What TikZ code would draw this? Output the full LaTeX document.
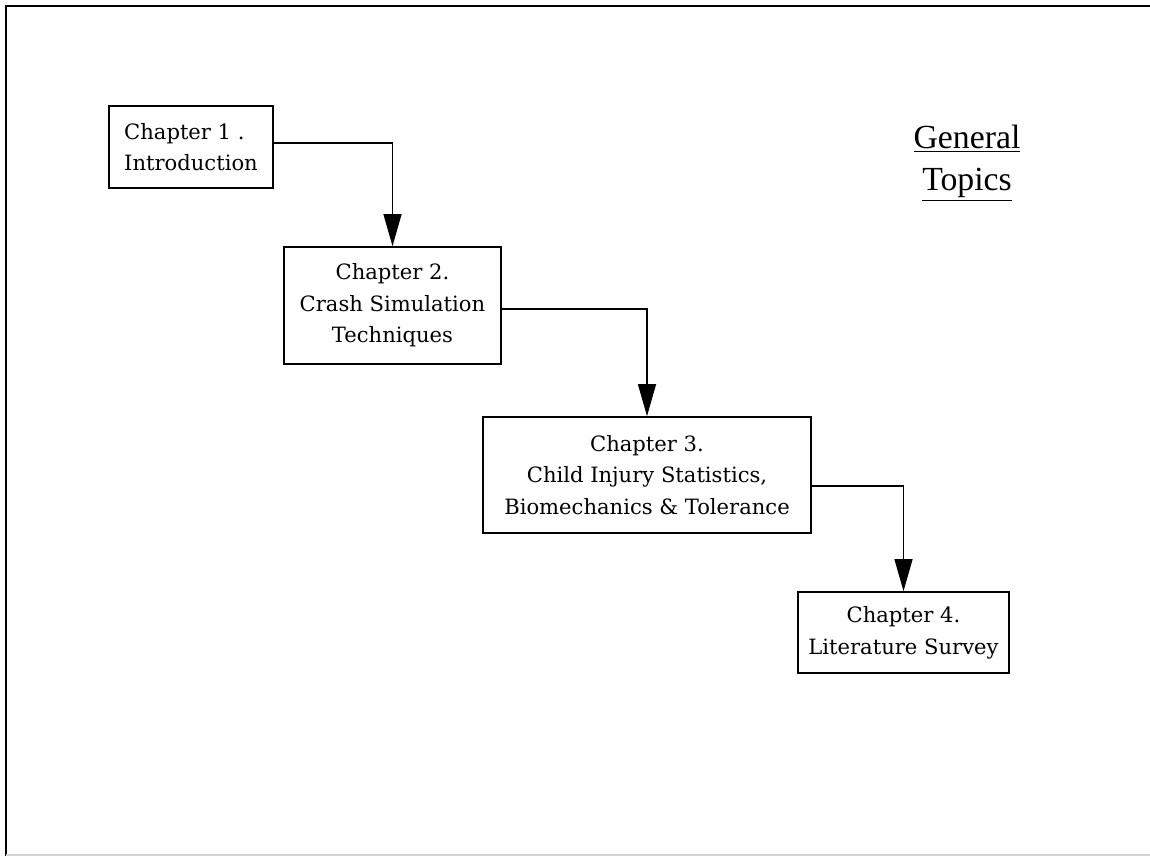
\documentclass[tikz,border=0pt]{standalone}
\usepackage{fontspec}
\setmainfont{DejaVu Serif}
\newfontfamily\topicfont{Liberation Serif}
\usetikzlibrary{arrows.meta,positioning}

\begin{document}
\begin{tikzpicture}[x=0.025cm,y=-0.025cm]
  \tikzset{chapter/.style={draw, line width=1.2pt, inner sep=0pt, align=center,
      font=\fontsize{15}{22.5}\selectfont},
    flow/.style={line width=0.9pt, -{Triangle[length=0.8cm,width=0.45cm]}}
  }
  \useasboundingbox (0,0) rectangle (1150,856);

  % page frame
  \draw[line width=1.6pt] (1150,6) -- (6,6) -- (6,856);
  \draw[gray!35, line width=1pt] (6,855) -- (1150,855);

  \node[chapter, align=left, minimum width=4.1cm, minimum height=2.05cm] (C1) at (191,147)
    {Chapter 1 .\\Introduction};
  \node[chapter, minimum width=5.425cm, minimum height=2.925cm] (C2) at (392.5,305.5)
    {Chapter 2.\\Crash Simulation\\Techniques};
  \node[chapter, minimum width=8.2cm, minimum height=2.9cm] (C3) at (647,475)
    {Chapter 3.\\Child Injury Statistics,\\Biomechanics \& Tolerance};
  \node[chapter, minimum width=5.275cm, minimum height=2.025cm] (C4) at (903.5,632.5)
    {Chapter 4.\\Literature Survey};

  \node[font=\topicfont\fontsize{24}{30}\selectfont, align=center] (T) at (967,163)
    {\underline{General}\\\underline{Topics}};

  \draw[flow] ([yshift=0.1cm]C1.east) -| (C2.north);
  \draw[flow] ([yshift=-0.09cm]C2.east) -| (C3.north);
  \draw[flow] ([yshift=-0.275cm]C3.east) -| (C4.north);
\end{tikzpicture}
\end{document}
